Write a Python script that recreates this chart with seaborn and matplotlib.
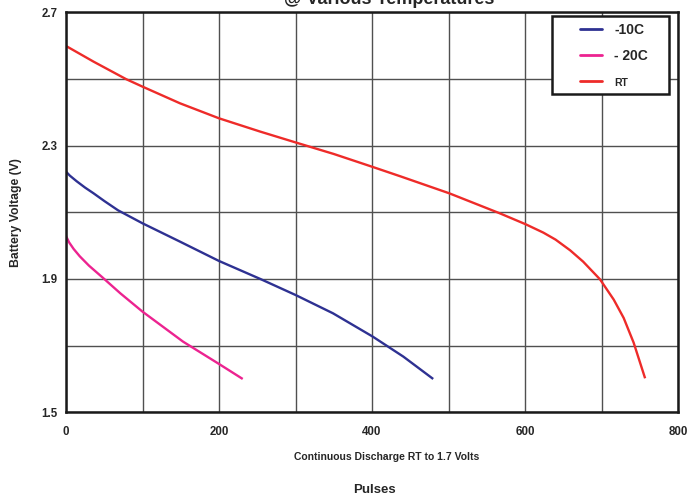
import matplotlib
matplotlib.use("Agg")
import matplotlib.pyplot as plt
from matplotlib.lines import Line2D
from matplotlib.patches import Rectangle
import pandas as pd
import seaborn as sns

# values
pulses_m10 = [0, 5, 14, 25, 36, 50, 68, 100, 149, 200, 254, 300, 349, 401, 441, 480]
volts_m10 = [2.222, 2.210, 2.193, 2.174, 2.157, 2.134, 2.106, 2.067, 2.012, 1.954, 1.90, 1.852,
             1.797, 1.727, 1.667, 1.60]

pulses_m20 = [0, 4, 10, 18, 30, 48, 71, 100, 153, 200, 231]
volts_m20 = [2.029, 2.010, 1.990, 1.968, 1.940, 1.904, 1.857, 1.802, 1.712, 1.645, 1.60]

pulses_rt = [0, 36, 79, 100, 149, 200, 254, 301, 350, 401, 437, 501, 567, 601,
             624, 640, 659, 676, 698, 716, 729, 742, 757]
volts_rt = [2.599, 2.552, 2.499, 2.477, 2.427, 2.382, 2.342, 2.309, 2.275, 2.236, 2.208,
            2.157, 2.097, 2.064, 2.039, 2.018, 1.986, 1.952, 1.899, 1.838, 1.783, 1.709, 1.602]

series = ['-10C', '- 20C', 'RT']
colors = {'-10C': '#2e3192', '- 20C': '#ec2390', 'RT': '#ee2b29'}

x_ticks = [0, 100, 200, 300, 400, 500, 600, 700, 800]
x_labels = ['0', '', '200', '', '400', '', '600', '', '800']
y_ticks = [1.5, 1.7, 1.9, 2.1, 2.3, 2.5, 2.7]
y_labels = ['1.5', '', '1.9', '', '2.3', '', '2.7']

df = pd.DataFrame({
    'Pulses': pulses_m10 + pulses_m20 + pulses_rt,
    'Volts': volts_m10 + volts_m20 + volts_rt,
    'Series': [series[0]] * len(pulses_m10) + [series[1]] * len(pulses_m20) + [series[2]] * len(pulses_rt),
})

sns.set_style('white')
plt.rcParams['font.family'] = ['Liberation Sans', 'DejaVu Sans']
plt.rcParams['font.weight'] = 'bold'

fig = plt.figure(figsize=(6.88, 4.98), dpi=100)
ax = fig.add_axes([66 / 688, 1 - 412.3 / 498, 612 / 688, 400 / 498])

sns.lineplot(data=df, x='Pulses', y='Volts', hue='Series', hue_order=series,
             palette=colors, ax=ax, linewidth=1.7, legend=False, sort=False)
for ln in ax.get_lines():
    ln.set_solid_joinstyle('round')
    ln.set_solid_capstyle('butt')

ax.set_xlim(0, 800)
ax.set_ylim(1.5, 2.7)
ax.set_xticks(x_ticks)
ax.set_xticklabels(x_labels)
ax.set_yticks(y_ticks)
ax.set_yticklabels(y_labels)
ax.tick_params(axis='both', which='both', direction='out', length=3, width=1.5,
               color='black', labelsize=8.3, pad=3)
ax.tick_params(axis='x', pad=7)
for lab in ax.get_xticklabels() + ax.get_yticklabels():
    lab.set_fontweight('bold')

ax.grid(True, color='#505050', linewidth=1)
for sp in ax.spines.values():
    sp.set_visible(True)
    sp.set_color('#1a1a1a')
    sp.set_linewidth(1.8)

ax.set_xlabel('')
ax.set_ylabel('Battery Voltage (V)', fontsize=8.8, fontweight='bold')
ax.yaxis.set_label_coords(-44 / 612, 0.5)

fig.text(387 / 688, 1 - 457 / 498, 'Continuous Discharge RT to 1.7 Volts', ha='center', va='center',
         fontsize=7.5, fontweight='bold')
fig.text(374 / 688, 1 - 490 / 498, 'Pulses', ha='center', va='center',
         fontsize=9.5, fontweight='bold')
fig.text(389 / 688, 1 - 4.5 / 498, '@ Various Temperatures', ha='center', va='baseline',
         fontsize=13, fontweight='bold')

# legend box
ax.add_patch(Rectangle((552 / 688, 1 - 94 / 498), 117 / 688, 78 / 498, transform=fig.transFigure,
                       facecolor='white', edgecolor='#1a1a1a', linewidth=1.8, clip_on=False, zorder=4))
handles = [Line2D([], [], color=colors[s], linewidth=2) for s in series]
leg = ax.legend(handles, series, loc='upper left', bbox_to_anchor=(580 / 688, 1 - 22.5 / 498),
                bbox_transform=fig.transFigure, frameon=False, borderpad=0, borderaxespad=0,
                handlelength=1.6, handletextpad=0.85, labelspacing=0.92,
                prop={'size': 10, 'weight': 'bold'})
leg.set_zorder(5)
leg.get_texts()[2].set_fontsize(7.5)

fig.savefig('out.png', dpi=100)
